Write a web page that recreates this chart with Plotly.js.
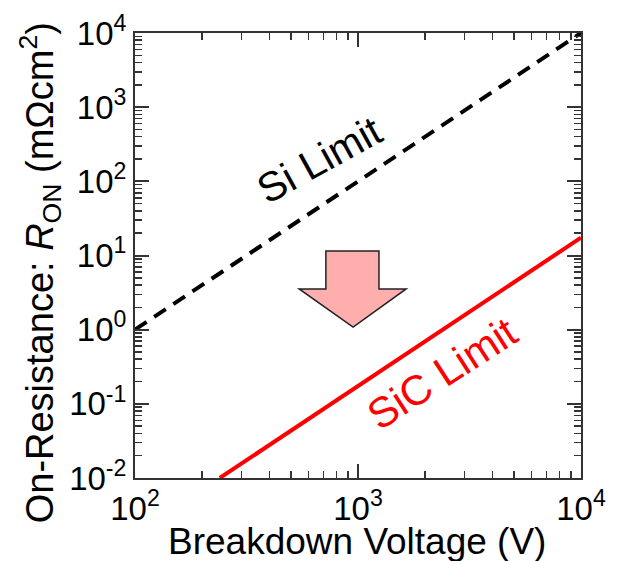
<!DOCTYPE html>
<html><head><meta charset="utf-8">
<script src="https://cdn.plot.ly/plotly-3.0.1.min.js"></script>
<style>body{margin:0;background:#fff}#chart{width:618px;height:561px}</style>
</head><body><div id="chart"></div>
<script>
// Data (log-log limits)
const siVoltage = [100, 10000];
const siResistance = [1, 10000];
const sicVoltage = [240, 10000];
const sicResistance = [0.01, 17.4];
const xTickVals = [100, 1000, 10000];
const xTickText = ['10<sup>2</sup>', '10<sup>3</sup>', '10<sup>4</sup>'];
const yTickVals = [0.01, 0.1, 1, 10, 100, 1000, 10000];
const yTickText = ['10<sup>-2</sup>', '10<sup>-1</sup>', '10<sup>0</sup>', '10<sup>1</sup>', '10<sup>2</sup>', '10<sup>3</sup>', '10<sup>4</sup>'];

const FONT = 'Liberation Sans, Arial, sans-serif';

const traces = [
  {x: siVoltage, y: siResistance, mode: 'lines', type: 'scatter',
   line: {color: '#000', width: 4, dash: '14px,9px'}, hoverinfo: 'skip'},
  {x: sicVoltage, y: sicResistance, mode: 'lines', type: 'scatter',
   line: {color: '#ff0000', width: 4}, hoverinfo: 'skip'}
];

const axisCommon = {
  type: 'log', showgrid: false, zeroline: false,
  showline: true, linecolor: '#333', linewidth: 2, mirror: 'ticks',
  ticks: 'inside', ticklen: 14, tickwidth: 2, tickcolor: '#333',
  minor: {ticks: 'inside', ticklen: 7, tickwidth: 1.5, tickcolor: '#333', dtick: 'D1', showgrid: false},
  tickmode: 'array',
  tickfont: {family: FONT, size: 33, color: '#000'}
};

const layout = {
  width: 618, height: 561,
  margin: {l: 135, r: 37, t: 33, b: 83},
  paper_bgcolor: '#fff', plot_bgcolor: '#fff',
  showlegend: false,
  font: {family: FONT, color: '#000'},
  xaxis: Object.assign({}, axisCommon, {
    range: [2, 4], tickvals: xTickVals, ticktext: xTickText
  }),
  yaxis: Object.assign({}, axisCommon, {
    range: [-2, 4], tickvals: yTickVals, ticktext: yTickText
  }),
  annotations: [
    {text: 'Breakdown Voltage (V)', xref: 'paper', yref: 'paper', x: 0.497, y: -0.142,
     xanchor: 'center', yanchor: 'middle', showarrow: false,
     font: {family: FONT, size: 37, color: '#000'}},
    {text: 'On-Resistance: <i>R</i><sub>ON</sub> (mΩcm<sup>2</sup>)', xref: 'paper', yref: 'paper',
     x: -0.213, y: 0.46, xanchor: 'center', yanchor: 'middle', showarrow: false, textangle: -90,
     font: {family: FONT, size: 38, color: '#000'}},
    {text: 'Si Limit', xref: 'paper', yref: 'paper', x: 0.413, y: 0.715,
     xanchor: 'center', yanchor: 'middle', showarrow: false,
     textangle: -29, font: {family: FONT, size: 41, color: '#000'}},
    {text: 'SiC Limit', xref: 'paper', yref: 'paper', x: 0.688, y: 0.235,
     xanchor: 'center', yanchor: 'middle', showarrow: false,
     textangle: -33, font: {family: FONT, size: 42, color: '#ff0000'}}
  ],
  shapes: [
    {type: 'path', xref: 'paper', yref: 'paper',
     path: 'M 0.428 0.510 L 0.547 0.510 L 0.547 0.425 L 0.608 0.425 L 0.489 0.339 L 0.368 0.425 L 0.428 0.425 Z',
     fillcolor: '#ffaeae', line: {color: '#222', width: 1.5}}
  ]
};

Plotly.newPlot('chart', traces, layout, {staticPlot: true});
</script></body></html>
